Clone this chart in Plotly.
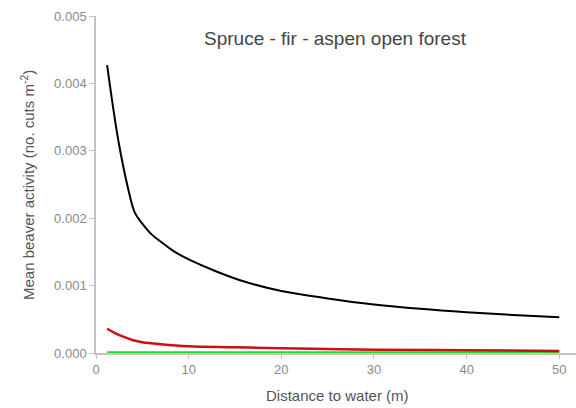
import plotly.graph_objects as go

# Distance to water (m) and mean beaver activity (no. cuts m^-2)
black_x = [1.2, 2.4, 3.5, 4.2, 5, 6, 7, 8.5, 10, 13, 16, 20, 25, 30, 35, 40, 45, 50]
black_y = [0.00427, 0.00316, 0.00242, 0.00208, 0.00192, 0.00176, 0.00165, 0.00150,
           0.00139, 0.00121, 0.00106, 0.00092, 0.00081, 0.00072, 0.000655, 0.000605,
           0.000565, 0.00053]

red_x = [1.2, 2, 3, 4, 5, 7, 10, 15, 20, 30, 40, 50]
red_y = [0.00036, 0.00030, 0.00024, 0.00019, 0.00016, 0.00013, 0.00010, 0.000085,
         0.00007, 0.00005, 0.00004, 0.00003]

green_x = [1.2, 10, 20, 30, 40, 50]
green_y = [0.000004, 0.000003, 0.000003, 0.000002, 0.000002, 0.000002]

x_ticks = [0, 10, 20, 30, 40, 50]
y_ticks = [0.0, 0.001, 0.002, 0.003, 0.004, 0.005]
y_tick_labels = ["0.000", "0.001", "0.002", "0.003", "0.004", "0.005"]

title_text = "Spruce - fir - aspen open forest"
x_title = "Distance to water (m)"
y_title = "Mean beaver activity (no. cuts m<sup>-2</sup>)"

FONT = "Liberation Sans, Arial, sans-serif"
AXIS = "#c4c4c4"
TICK_TXT = "#8a8a8a"

fig = go.Figure()
fig.add_trace(go.Scatter(x=green_x, y=green_y, mode="lines",
                         line=dict(color="#22dd22", width=3), cliponaxis=False,
                         showlegend=False))
fig.add_trace(go.Scatter(x=red_x, y=red_y, mode="lines", line_shape="spline",
                         line=dict(color="#cc1010", width=2.5), cliponaxis=False,
                         showlegend=False))
fig.add_trace(go.Scatter(x=black_x, y=black_y, mode="lines", line_shape="spline",
                         line=dict(color="#000000", width=2), cliponaxis=False,
                         showlegend=False))

fig.update_layout(
    width=576, height=408,
    margin=dict(l=96, r=0, t=16, b=55),
    paper_bgcolor="white", plot_bgcolor="white",
    font=dict(family=FONT, size=13, color=TICK_TXT),
    xaxis=dict(range=[0, 51.8], tickmode="array", tickvals=x_ticks,
               showgrid=False, zeroline=False, showline=True, linecolor=AXIS,
               linewidth=1.5, ticks="outside", ticklen=4, tickcolor=AXIS,
               tickfont=dict(size=13, color=TICK_TXT)),
    yaxis=dict(range=[0, 0.005], tickmode="array", tickvals=y_ticks,
               ticktext=y_tick_labels, showgrid=False, zeroline=False,
               showline=True, linecolor=AXIS, linewidth=1.5, ticks="outside",
               ticklen=5, tickcolor=AXIS, tickfont=dict(size=13, color=TICK_TXT)),
    annotations=[
        dict(text=title_text, x=335, y=408 - 38, xref="paper", yref="paper",
             xanchor="center", yanchor="middle",
             showarrow=False, font=dict(size=19, color="#444444")),
        dict(text=x_title, x=337, y=408 - 395, xref="paper", yref="paper",
             xanchor="center", yanchor="middle",
             showarrow=False, font=dict(size=15, color="#555555")),
        dict(text=y_title, x=27, y=408 - 185, xref="paper", yref="paper",
             xanchor="center", yanchor="middle",
             showarrow=False, textangle=-90, font=dict(size=15, color="#555555")),
    ],
)

# convert pixel positions to paper coordinates
pw, ph = 576 - 96, 408 - 16 - 55
for a in fig.layout.annotations:
    a.x = (a.x - 96) / pw
    a.y = (a.y - 55) / ph

fig.write_html("out.html")
